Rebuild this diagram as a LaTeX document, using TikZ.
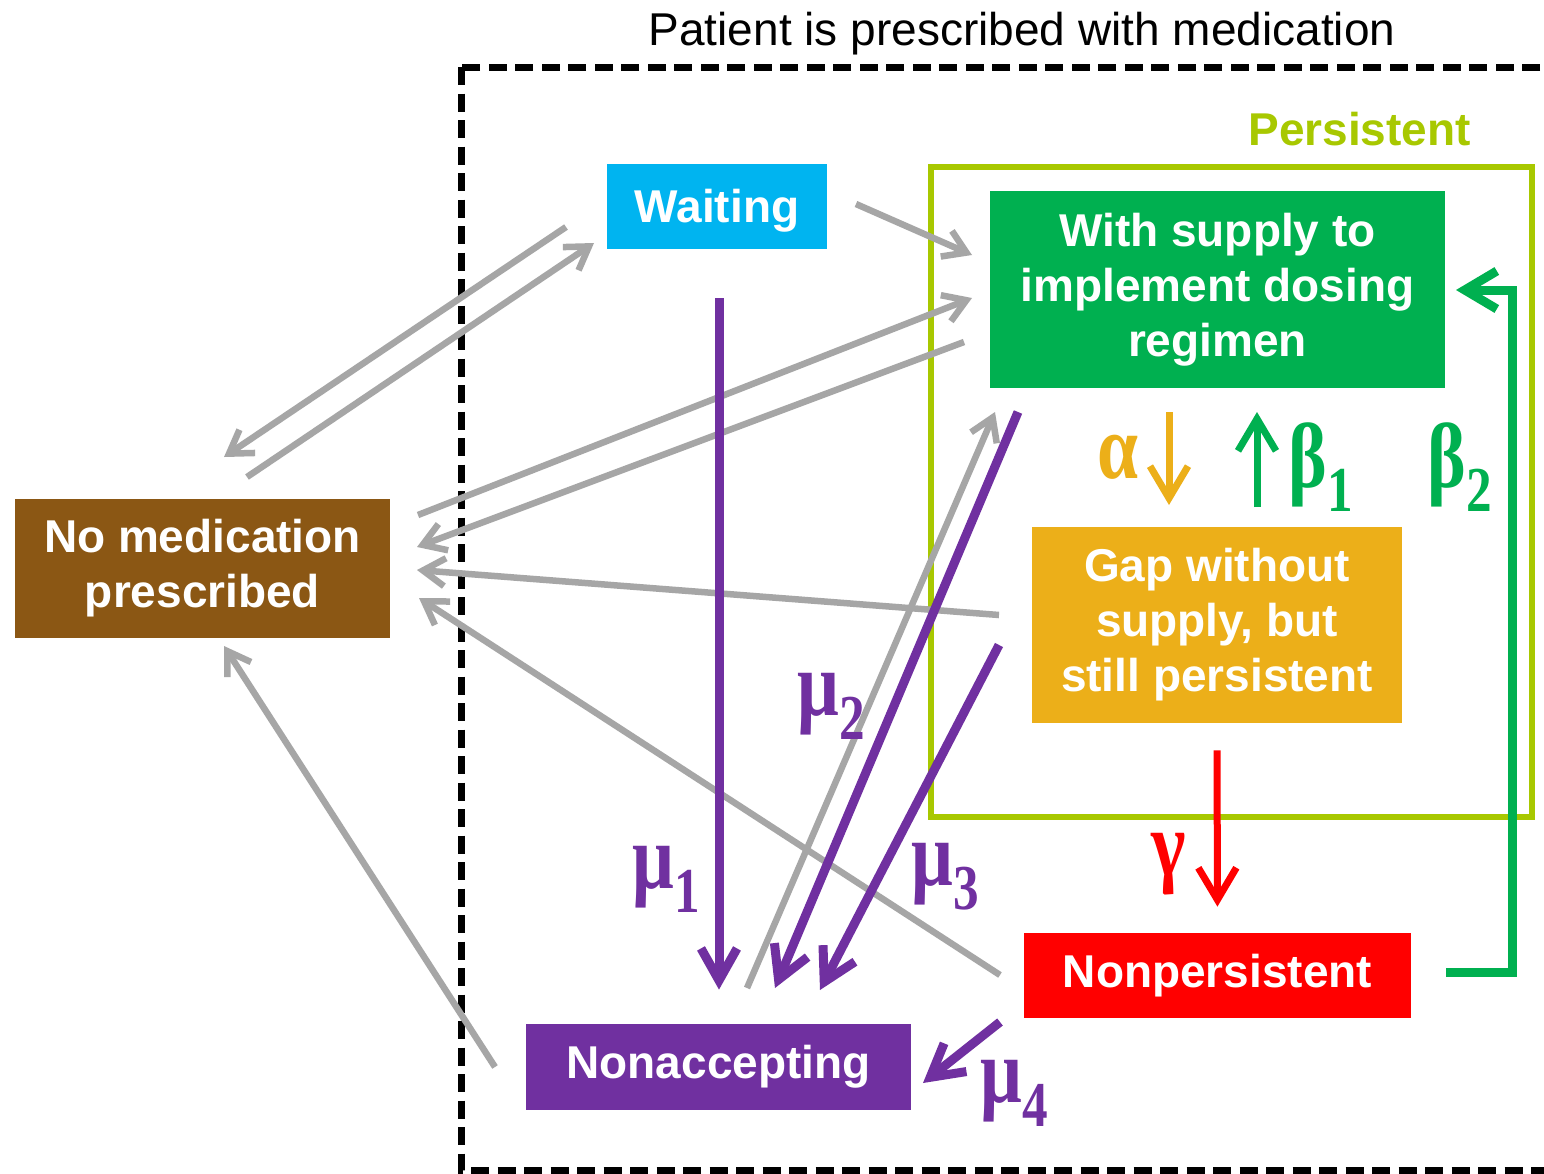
\documentclass[tikz,border=0pt]{standalone}
\usepackage{fontspec}
\usepackage{graphicx}
\setmainfont{Liberation Sans}
\newfontfamily\gkfont{Liberation Serif}
\usetikzlibrary{arrows.meta}
\definecolor{cgray}{HTML}{A6A6A6}
\definecolor{cpurple}{HTML}{7030A0}
\definecolor{cgreen}{HTML}{00B050}
\definecolor{ccyan}{HTML}{00B4F0}
\definecolor{corange}{HTML}{ECAF19}
\definecolor{cred}{HTML}{FF0000}
\definecolor{cbrown}{HTML}{8B5714}
\definecolor{clime}{HTML}{A8C800}
\newcommand{\gklabel}[2]{\scalebox{0.8}[1]{\fontsize{46}{46}\gkfont\bfseries #1\fontsize{32}{32}\selectfont\raisebox{-12pt}{#2}}}
\begin{document}
\begin{tikzpicture}[x=0.5pt,y=-0.5pt,
  box/.style={rectangle, inner sep=0pt, text=white, align=center,
    font=\bfseries\fontsize{23}{27.5}\selectfont},
  garrow/.style={draw=cgray, line width=3.25pt, -{Straight Barb[length=11pt,width=14pt]}},
  parrow/.style={draw=cpurple, line width=4.5pt, -{Straight Barb[length=16pt,width=18pt]}},
  carrow/.style={line width=3.5pt, -{Straight Barb[length=16pt,width=19pt]}},
  gklab/.style={anchor=base west, inner sep=0pt},
  dashbox/.style={draw=black, line width=3.5pt, dash pattern=on 9pt off 4.25pt}
]
\clip (0,0) rectangle (1544,1174);
\fill[white] (0,0) rectangle (1544,1174);

% frames
\draw[dashbox] (461,67) rectangle (1620,1170);
\node[anchor=base, inner sep=0pt, font=\fontsize{23}{27}\selectfont] (title) at (1022,45) {Patient is prescribed with medication};
\node[draw=clime, line width=3pt, rectangle, inner sep=0pt, minimum width=300.75pt, minimum height=325pt] (pbox) at (1231.25,492) {};
\node[anchor=base west, inner sep=0pt, text=clime, font=\bfseries\fontsize{23}{27}\selectfont] (plabel) at (1248,145) {Persistent};

% boxes
\node[box, fill=ccyan, minimum width=110pt, minimum height=42.5pt, text depth=0.5pt] (wait) at (717,206.5) {Waiting};
\node[box, fill=cgreen, minimum width=227.5pt, minimum height=98.5pt] (sup) at (1217.5,289.5) {With supply to\\implement dosing\\regimen};
\node[box, fill=corange, minimum width=184.75pt, minimum height=98pt] (gap) at (1217,625) {Gap without\\supply, but\\still persistent};
\node[box, fill=cred, minimum width=193.5pt, minimum height=42.5pt] (nonp) at (1217.5,975.5) {Nonpersistent};
\node[box, fill=cpurple, minimum width=192.5pt, minimum height=43pt] (nacc) at (718.5,1067) {Nonaccepting};
\node[box, fill=cbrown, minimum width=187.5pt, minimum height=69.5pt] (nomed) at (202.5,568.5) {No medication\\prescribed};

% connector end points
\coordinate (g1s) at (247,477);  \coordinate (g1e) at (594,243);
\coordinate (g2s) at (566,227);  \coordinate (g2e) at (224,457);
\coordinate (g3s) at (856,204);  \coordinate (g3e) at (972,255);
\coordinate (g4s) at (418,515);  \coordinate (g4e) at (972,298);
\coordinate (g5s) at (964,342);  \coordinate (g5e) at (417,547);
\coordinate (g6s) at (999,615);  \coordinate (g6e) at (417,570);
\coordinate (g7s) at (1000,975); \coordinate (g7e) at (419,598);
\coordinate (g8s) at (495,1067); \coordinate (g8e) at (224,646);
\coordinate (g9s) at (747,988);  \coordinate (g9e) at (995,412);
\coordinate (p2s) at (1018,412); \coordinate (p2e) at (775,988);
\coordinate (p3s) at (999,645);  \coordinate (p3e) at (820,990);
\coordinate (p4s) at (1000,1022);\coordinate (p4e) at (923,1083);
\coordinate (as) at (1169,412);  \coordinate (ae) at (1169,505);
\coordinate (bs) at (1257,507);  \coordinate (be) at (1257,412);
\coordinate (b2s) at (1446,972); \coordinate (b2m) at (1512,972);
\coordinate (b2n) at (1512,290); \coordinate (b2e) at (1456,290);

% gray arrows
\draw[garrow] (g1s) -- (g1e);
\draw[garrow] (g2s) -- (g2e);
\draw[garrow] (g3s) -- (g3e);
\draw[garrow] (g4s) -- (g4e);
\draw[garrow] (g5s) -- (g5e);
\draw[garrow] (g6s) -- (g6e);
\draw[garrow] (g7s) -- (g7e);
\draw[garrow] (g8s) -- (g8e);
\draw[garrow] (g9s) -- (g9e);

% purple arrows
\draw[parrow, shorten <=24.5pt, shorten >=17pt] (wait.south -| 719,0) -- (nacc.north -| 719,0);
\draw[parrow] (p2s) -- (p2e);
\draw[parrow] (p3s) -- (p3e);
\draw[parrow] (p4s) -- (p4e);

% coloured arrows
\draw[carrow, draw=corange] (as) -- (ae);
\draw[carrow, draw=cgreen] (bs) -- (be);
\draw[carrow, draw=cred, shorten <=13.5pt, shorten >=13pt] (gap.south) -- (nonp.north);
\draw[carrow, draw=cgreen, line width=4.5pt, line join=miter] (b2s) -- (b2m) -- (b2n) -- (b2e);

% greek labels
\node[gklab, text=cpurple] (mu1) at (632,888) {\gklabel{μ}{1}};
\node[gklab, text=cpurple] (mu2) at (797,715) {\gklabel{μ}{2}};
\node[gklab, text=cpurple] (mu3) at (911,885) {\gklabel{μ}{3}};
\node[gklab, text=cpurple] (mu4) at (980,1102) {\gklabel{μ}{4}};
\node[gklab, text=corange] (alab) at (1097,478) {\gklabel{α}{}};
\node[gklab, text=cgreen] (b1lab) at (1288,487) {\gklabel{β}{1}};
\node[gklab, text=cgreen] (b2lab) at (1427,487) {\gklabel{β}{2}};
\node[gklab, text=cred] (glab) at (1151,875) {\gklabel{γ}{}};
\end{tikzpicture}
\end{document}
